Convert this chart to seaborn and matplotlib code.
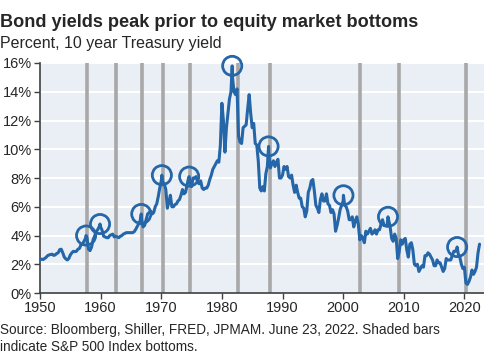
import numpy as np
import pandas as pd
import matplotlib
matplotlib.use("Agg")
import matplotlib.pyplot as plt
import seaborn as sns

# 10 year Treasury yield, quarterly readings (Jan, Apr, Jul, Oct)
start_year = 1950
quarterly_yield = [
    2.32, 2.36, 2.33, 2.40,   # 1950
    2.48, 2.60, 2.65, 2.68,   # 1951
    2.70, 2.62, 2.65, 2.75,   # 1952
    2.80, 3.02, 3.05, 2.80,   # 1953
    2.50, 2.38, 2.30, 2.40,   # 1954
    2.65, 2.80, 2.90, 2.88,   # 1955
    2.90, 3.05, 3.10, 3.35,   # 1956
    3.40, 3.60, 3.80, 3.85,   # 1957
    3.05, 2.95, 3.20, 3.70,   # 1958
    3.95, 4.25, 4.40, 4.60,   # 1959
    4.60, 4.35, 3.95, 3.90,   # 1960
    3.85, 3.85, 4.00, 4.05,   # 1961
    4.10, 3.90, 3.95, 3.90,   # 1962
    3.85, 3.95, 4.00, 4.10,   # 1963
    4.15, 4.20, 4.20, 4.20,   # 1964
    4.20, 4.20, 4.25, 4.40,   # 1965
    4.60, 4.80, 5.00, 5.10,   # 1966
    4.60, 4.70, 5.10, 5.50,   # 1967
    5.60, 5.70, 5.50, 5.60,   # 1968
    6.00, 6.20, 6.70, 7.30,   # 1969
    7.80, 7.70, 7.60, 7.20,   # 1970
    5.90, 6.30, 6.80, 6.00,   # 1971
    6.00, 6.15, 6.20, 6.40,   # 1972
    6.50, 6.80, 7.20, 6.90,   # 1973
    7.00, 7.50, 8.00, 7.70,   # 1974
    7.40, 8.00, 8.00, 8.10,   # 1975
    7.70, 7.60, 7.80, 7.30,   # 1976
    7.20, 7.30, 7.30, 7.50,   # 1977
    7.90, 8.20, 8.60, 8.80,   # 1978
    9.00, 9.20, 9.10, 10.30,  # 1979
    13.20, 12.00, 9.80, 11.50,  # 1980
    12.50, 13.50, 14.00, 15.00,  # 1981
    14.00, 13.80, 14.20, 10.90,  # 1982
    10.50, 10.40, 11.50, 11.60,  # 1983
    11.70, 12.80, 13.80, 12.50,  # 1984
    11.50, 11.80, 10.40, 10.30,  # 1985
    9.20, 7.30, 7.10, 7.40,   # 1986
    7.10, 8.30, 8.80, 9.60,   # 1987
    8.70, 9.00, 9.20, 8.80,   # 1988
    9.10, 9.30, 8.00, 8.00,   # 1989
    8.20, 8.80, 8.60, 8.80,   # 1990
    8.10, 8.00, 8.20, 7.50,   # 1991
    7.00, 7.50, 7.00, 6.60,   # 1992
    6.60, 6.00, 5.90, 5.30,   # 1993
    5.70, 7.00, 7.30, 7.80,   # 1994
    7.90, 7.10, 6.10, 5.90,   # 1995
    5.60, 6.50, 6.90, 6.40,   # 1996
    6.40, 6.90, 6.20, 6.10,   # 1997
    5.60, 5.80, 5.50, 4.30,   # 1998
    4.70, 5.20, 5.80, 6.10,   # 1999
    6.40, 6.10, 6.00, 5.70,   # 2000
    5.10, 5.10, 5.30, 4.60,   # 2001
    5.00, 5.30, 4.80, 3.70,   # 2002
    4.00, 3.80, 3.50, 4.30,   # 2003
    4.10, 4.30, 4.50, 4.10,   # 2004
    4.20, 4.40, 4.10, 4.40,   # 2005
    4.40, 4.80, 5.10, 4.70,   # 2006
    4.70, 4.70, 5.10, 4.60,   # 2007
    3.80, 3.60, 4.10, 3.80,   # 2008
    2.40, 2.90, 3.70, 3.40,   # 2009
    3.70, 3.80, 3.00, 2.50,   # 2010
    3.40, 3.50, 3.00, 2.00,   # 2011
    1.90, 2.00, 1.50, 1.70,   # 2012
    1.90, 1.80, 2.60, 2.60,   # 2013
    2.80, 2.70, 2.50, 2.30,   # 2014
    1.90, 1.90, 2.30, 2.10,   # 2015
    2.10, 1.80, 1.50, 1.70,   # 2016
    2.40, 2.30, 2.30, 2.30,   # 2017
    2.60, 2.90, 2.90, 3.05,   # 2018
    2.70, 2.50, 2.00, 1.70,   # 2019
    1.80, 0.70, 0.60, 0.80,   # 2020
    1.10, 1.60, 1.30, 1.50,   # 2021
    1.80, 2.80, 3.40,         # 2022
]

# circled yield peaks
peak_dates = [1957.6, 1959.9, 1966.7, 1970.1, 1974.6, 1981.7, 1987.7, 2000.05, 2007.4, 2018.8]
peak_yields = [4.0, 4.8, 5.5, 8.2, 8.1, 15.8, 10.2, 6.8, 5.3, 3.2]

# S&P 500 index bottoms (shaded bars)
bottom_dates = [1957.8, 1962.5, 1966.8, 1970.35, 1974.75, 1982.65, 1987.95, 2002.8, 2009.2, 2020.25]

quarter_dates = start_year + np.arange(len(quarterly_yield)) * 0.25
df = pd.DataFrame({
    "date": np.concatenate([quarter_dates, peak_dates]),
    "yield": np.concatenate([quarterly_yield, peak_yields]),
}).sort_values("date")
peaks = pd.DataFrame({"date": peak_dates, "yield": peak_yields})

blue = "#2566a8"
sns.set_style("white")
plt.rcParams["font.family"] = ["Liberation Sans", "DejaVu Sans"]

fig = plt.figure(figsize=(4.85, 3.6), dpi=100)
ax = fig.add_axes([0.0825, 0.186, 0.915, 0.639])
ax.set_facecolor("#e9eff4")

for y in range(2, 17, 2):
    ax.axhline(y, color="white", lw=1.5, zorder=1)
for d in bottom_dates:
    ax.axvline(d, color="#a8a8a8", lw=2.6, zorder=2)

sns.lineplot(data=df, x="date", y="yield", estimator=None, sort=False,
             color=blue, lw=2.2, ax=ax, zorder=3)
sns.scatterplot(data=peaks, x="date", y="yield", s=190, facecolors="none",
                edgecolor=blue, linewidth=2, ax=ax, zorder=4, clip_on=False)

ax.set_xlim(1950, 2023.2)
ax.set_ylim(0, 16)
ax.set_xticks(range(1950, 2021, 10))
ax.set_yticks(range(0, 17, 2))
ax.set_yticklabels([f"{v}%" for v in range(0, 17, 2)])
ax.set_xlabel("")
ax.set_ylabel("")
ax.tick_params(axis="both", labelsize=10.5, length=4, width=1, color="#404040",
               direction="out", pad=2, left=True, bottom=True)
for side in ["top", "right"]:
    ax.spines[side].set_visible(False)
for side in ["left", "bottom"]:
    ax.spines[side].set_color("#404040")
    ax.spines[side].set_linewidth(1.2)

fig.text(0.0, 0.938, "Bond yields peak prior to equity market bottoms",
         fontsize=13.1, fontweight="bold", va="center", ha="left")
fig.text(0.0, 0.88, "Percent, 10 year Treasury yield",
         fontsize=11.5, va="center", ha="left")
fig.text(0.0, 0.083, "Source: Bloomberg, Shiller, FRED, JPMAM. June 23, 2022. Shaded bars",
         fontsize=9.8, va="center", ha="left")
fig.text(0.0, 0.035, "indicate S&P 500 Index bottoms.",
         fontsize=9.8, va="center", ha="left")

plt.savefig("out.png", dpi=100)
